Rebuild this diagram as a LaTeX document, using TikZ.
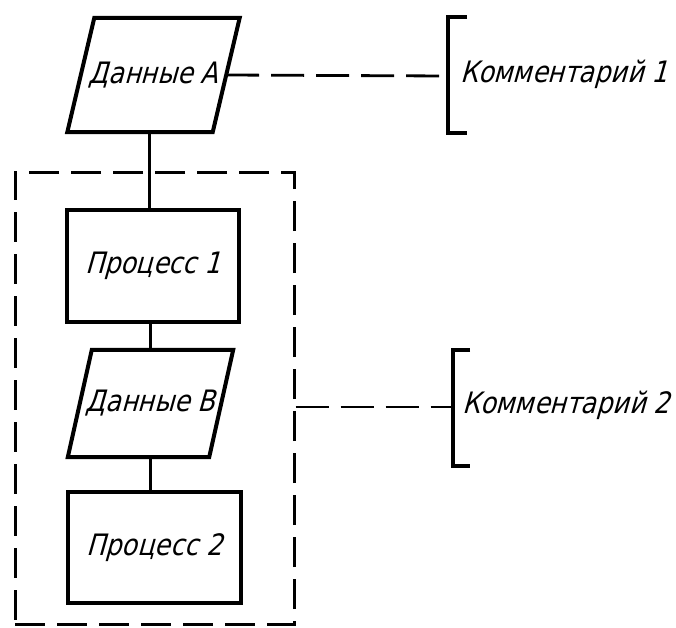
\documentclass[tikz,border=0pt]{standalone}
\usepackage{fontspec}
\usetikzlibrary{calc}
\newfontfamily\gost[FakeSlant=0.28,FakeStretch=0.86]{DejaVu Sans}
\begin{document}
\begin{tikzpicture}[x=1pt,y=-1pt,
  lbl/.style={font=\gost\fontsize{29.5}{31}\selectfont},
  box/.style={draw,line width=4pt,inner sep=0pt},
  datashape/.style={inner sep=0pt},
  outline/.style={line width=4pt,line join=miter},
  link/.style={line width=2.8pt},
  note/.style={line width=2.8pt,dash pattern=on 33pt off 12pt},
  grp/.style={draw,line width=3pt,dash pattern=on 30pt off 12pt,inner sep=0pt},
  brk/.style={line width=4pt,line join=miter}]
\useasboundingbox (0,0) rectangle (676,627);

% group frame
\node[grp,minimum width=279pt,minimum height=452pt] (G) at (154.5,398) {};

% Data A
\node[datashape,minimum width=145pt,minimum height=114pt,lbl] (A) at (153.5,75) {Данные А};
\draw[outline] ([xshift=-13.5pt]A.south west) -- ([xshift=13.5pt]A.north west)
  -- ([xshift=13.5pt]A.north east) -- ([xshift=-13.5pt]A.south east) -- cycle;

% Process 1
\node[box,minimum width=172pt,minimum height=112pt,lbl] (P1) at (153,266) {\raisebox{6pt}{Процесс 1}};

% Data B
\node[datashape,minimum width=141pt,minimum height=107pt,lbl] (B) at (150.5,403.5) {Данные В};
\draw[outline] ([xshift=-12pt]B.south west) -- ([xshift=12pt]B.north west)
  -- ([xshift=12pt]B.north east) -- ([xshift=-12pt]B.south east) -- cycle;

% Process 2
\node[box,minimum width=173pt,minimum height=111pt,lbl] (P2) at (154.5,547.5) {Процесс 2};

% flow lines
\draw[link] ([xshift=-4pt]A.south) -- ([xshift=-4pt]A.south |- P1.north);
\draw[link] (P1.south -| B.north) -- (B.north);
\draw[link] (B.south) -- (B.south |- P2.north);

% comment 1
\coordinate (K1) at (448,76);
\draw[brk] ($(K1)+(19,-59)$) -- ($(K1)+(0,-59)$) -- ($(K1)+(0,57)$) -- ($(K1)+(19,57)$);
\draw[note] (A.east) -- (K1);
\node[lbl,anchor=west,inner sep=0pt] (C1) at (460,74) {Комментарий 1};

% comment 2
\coordinate (K2) at (453,407);
\draw[brk] ($(K2)+(17,-57)$) -- ($(K2)+(0,-57)$) -- ($(K2)+(0,59)$) -- ($(K2)+(17,59)$);
\draw[note] (G.east |- K2) -- (K2);
\node[lbl,anchor=west,inner sep=0pt] (C2) at (462,405) {Комментарий 2};
\end{tikzpicture}
\end{document}
